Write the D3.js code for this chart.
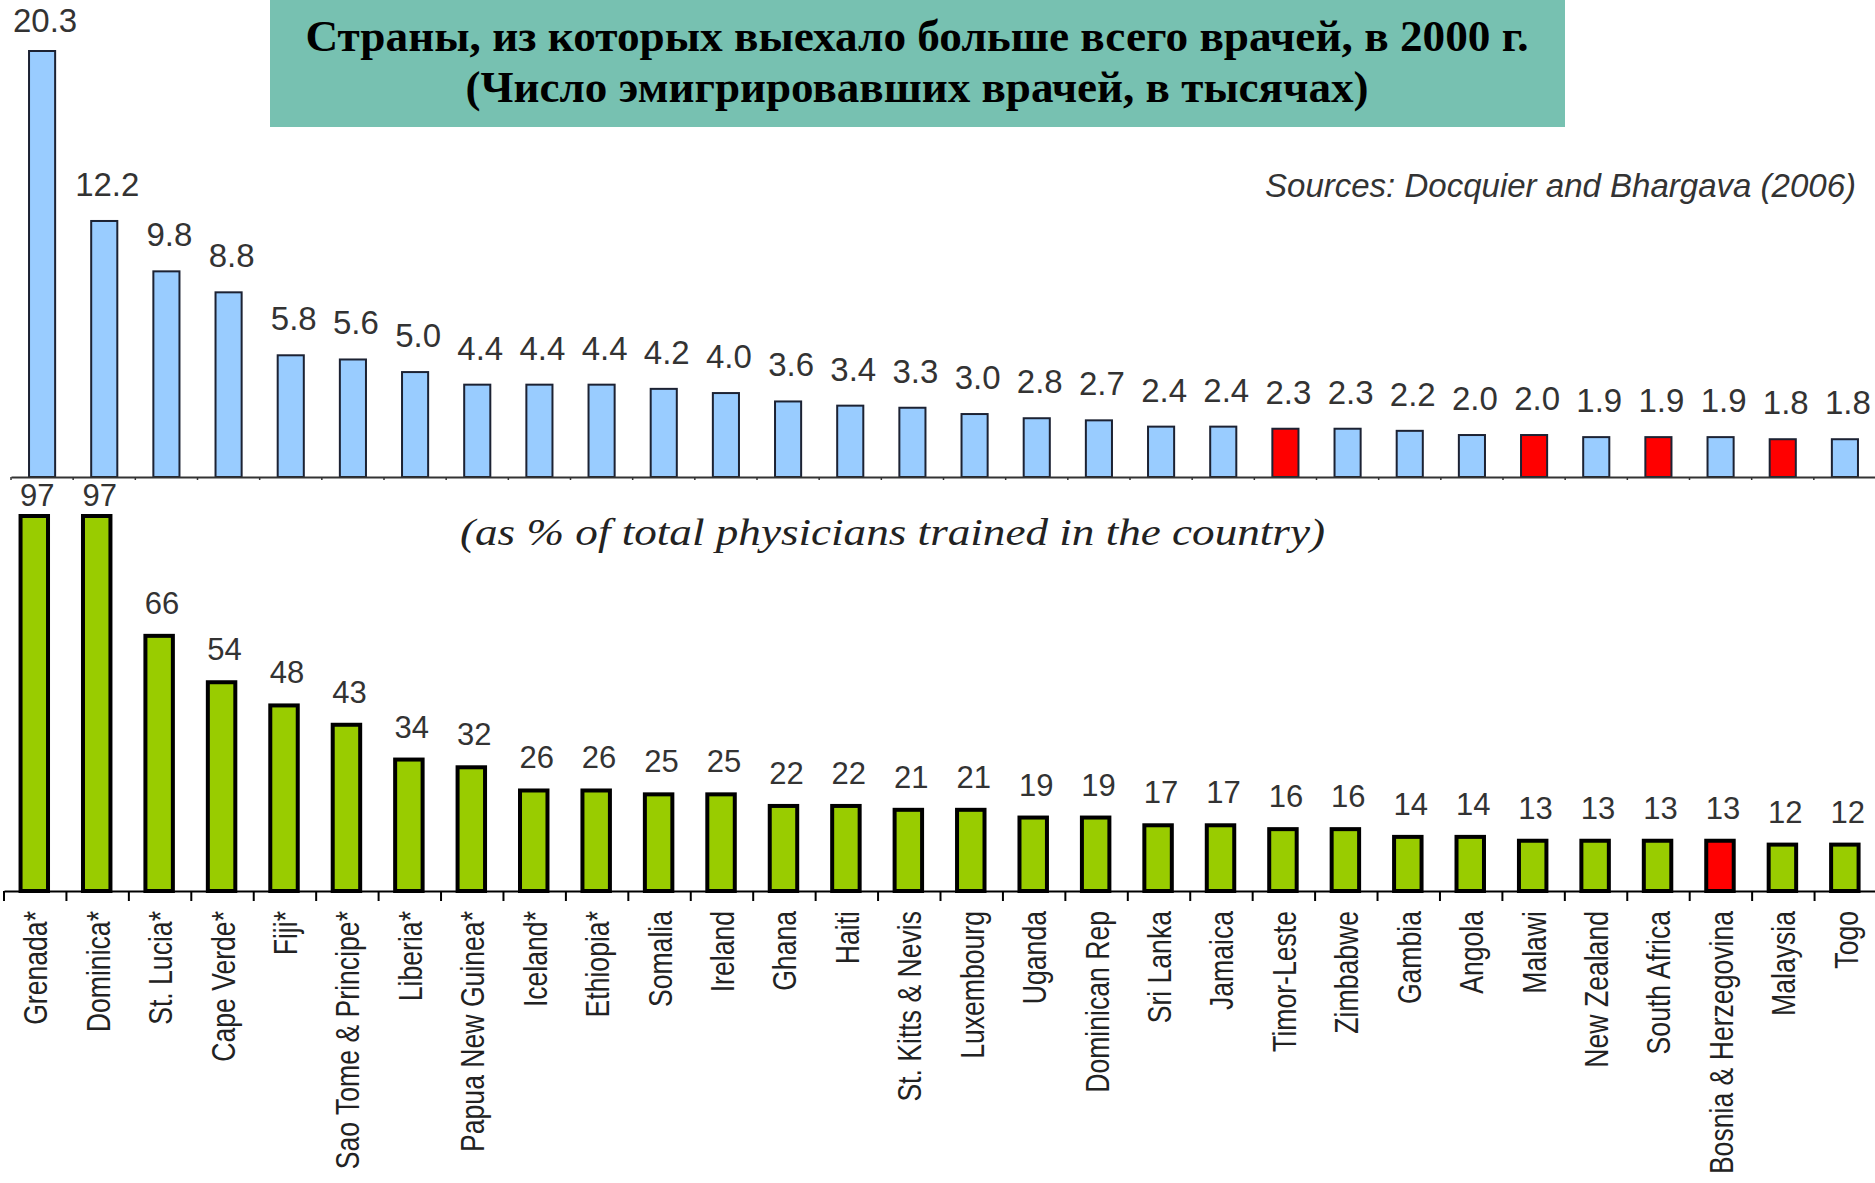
<!DOCTYPE html>
<html>
<head>
<meta charset="utf-8">
<script src="https://cdn.jsdelivr.net/npm/d3@7"></script>
<style>
  body { margin: 0; background: #fff; }
  svg { display: block; }
</style>
</head>
<body>
<svg id="vis"></svg>
<script>
// top panel: emigrated physicians, thousands (no country names on this one)
const topValues = [20.3, 12.2, 9.8, 8.8, 5.8, 5.6, 5.0, 4.4, 4.4, 4.4, 4.2, 4.0, 3.6, 3.4, 3.3,
                   3.0, 2.8, 2.7, 2.4, 2.4, 2.3, 2.3, 2.2, 2.0, 2.0, 1.9, 1.9, 1.9, 1.8, 1.8];
const topRed = [20, 24, 26, 28];

// bottom panel: % of physicians trained in the country
const countries = ["Grenada*", "Dominica*", "St. Lucia*", "Cape Verde*", "Fiji*", "Sao Tome & Principe*",
  "Liberia*", "Papua New Guinea*", "Iceland*", "Ethiopia*", "Somalia", "Ireland", "Ghana", "Haiti",
  "St. Kitts & Nevis", "Luxembourg", "Uganda", "Dominican Rep", "Sri Lanka", "Jamaica", "Timor-Leste",
  "Zimbabwe", "Gambia", "Angola", "Malawi", "New Zealand", "South Africa", "Bosnia & Herzegovina",
  "Malaysia", "Togo"];
const pctValues = [97, 97, 66, 54, 48, 43, 34, 32, 26, 26, 25, 25, 22, 22, 21, 21, 19, 19, 17, 17,
                   16, 16, 14, 14, 13, 13, 13, 13, 12, 12];
const bottomRed = [27];

const titleLines = ["Страны, из которых выехало больше всего врачей, в 2000 г.",
                    "(Число эмигрировавших врачей, в тысячах)"];
const sourceText = "Sources: Docquier and Bhargava (2006)";
const subText = "(as % of total physicians trained in the country)";

const width = 1875;
const height = 1183;

const svg = d3.select("#vis")
  .attr("width", width)
  .attr("height", height);

const topBase = 477;
const botBase = 891;

const idx = d3.range(topValues.length);

const xTop = d3.scaleBand().domain(idx).range([11, 1876]);
const xBot = d3.scaleBand().domain(idx).range([4, 1877]);

const yTop = d3.scaleLinear().domain([0, 20.3]).range([topBase, 51]);
const yBot = d3.scaleLinear().domain([0, 97]).range([botBase, 516]);

// ---- top chart ----
const gTop = svg.append("g");

gTop.selectAll("rect")
  .data(topValues)
  .join("rect")
    .attr("x", (d, i) => xTop(i) + xTop.bandwidth() * 0.29)
    .attr("width", xTop.bandwidth() * 0.42)
    .attr("y", d => yTop(d))
    .attr("height", d => topBase - yTop(d))
    .style("fill", (d, i) => topRed.includes(i) ? "#ff0000" : "#99ccff")
    .style("stroke", "#1c2233")
    .style("stroke-width", 2);

// labels: keep the tallest one inside the page
gTop.selectAll("text.val")
  .data(topValues)
  .join("text")
    .attr("class", "val")
    .attr("x", (d, i) => xTop(i) + xTop.bandwidth() / 2 + 3)
    .attr("y", d => Math.max(yTop(d) - 25, 32))
    .attr("text-anchor", "middle")
    .style("font-family", "'Liberation Sans', Arial, sans-serif")
    .style("font-size", "33px")
    .style("fill", "#333")
    .text(d => d.toFixed(1));

const axTop = gTop.append("g")
  .attr("transform", `translate(0, ${topBase})`)
  .call(d3.axisBottom(xTop).tickValues([]).tickSizeOuter(0));
axTop.select(".domain").attr("stroke", "#333").attr("stroke-width", 2);

// little tick marks between the bars
gTop.selectAll("line.tk")
  .data(idx)
  .join("line")
    .attr("class", "tk")
    .attr("x1", i => xTop(i))
    .attr("x2", i => xTop(i))
    .attr("y1", topBase)
    .attr("y2", topBase + 3)
    .attr("stroke", "#333")
    .attr("stroke-width", 1.5);

// ---- bottom chart ----
const gBot = svg.append("g");

gBot.selectAll("rect")
  .data(pctValues)
  .join("rect")
    .attr("x", (d, i) => xBot(i) + xBot.bandwidth() * 0.265)
    .attr("width", xBot.bandwidth() * 0.44)
    .attr("y", d => yBot(d))
    .attr("height", d => botBase - yBot(d))
    .style("fill", (d, i) => bottomRed.includes(i) ? "#ff0000" : "#99cc00")
    .style("stroke", "#000")
    .style("stroke-width", 4);

gBot.selectAll("text.val")
  .data(pctValues)
  .join("text")
    .attr("class", "val")
    .attr("x", (d, i) => xBot(i) + xBot.bandwidth() / 2 + 2)
    .attr("y", d => Math.max(yBot(d) - 22, topBase + 29))
    .attr("text-anchor", "middle")
    .style("font-family", "'Liberation Sans', Arial, sans-serif")
    .style("font-size", "31px")
    .style("fill", "#333")
    .text(d => d);

const axBot = gBot.append("g")
  .attr("transform", `translate(0, ${botBase})`)
  .call(d3.axisBottom(xBot).tickFormat("").tickSize(0).tickSizeOuter(0));
axBot.select(".domain").attr("stroke", "#000").attr("stroke-width", 2);
axBot.selectAll(".tick").remove();

gBot.selectAll("line.tk")
  .data(d3.range(topValues.length + 1))
  .join("line")
    .attr("class", "tk")
    .attr("x1", i => 4 + i * xBot.step())
    .attr("x2", i => 4 + i * xBot.step())
    .attr("y1", botBase)
    .attr("y2", botBase + 10)
    .attr("stroke", "#000")
    .attr("stroke-width", 2);

// country names, rotated (the picture is a bit stretched sideways so scale x)
gBot.selectAll("text.lab")
  .data(countries)
  .join("text")
    .attr("class", "lab")
    .attr("transform", (d, i) => `translate(${xBot(i) + xBot.bandwidth() / 2 + 12}, 911) scale(1.24,1) rotate(-90)`)
    .attr("text-anchor", "end")
    .style("font-family", "'Liberation Sans', Arial, sans-serif")
    .style("font-size", "26.6px")
    .style("fill", "#222")
    .text(d => d);

// ---- title box + notes ----
svg.append("rect")
  .attr("x", 270)
  .attr("y", 0)
  .attr("width", 1295)
  .attr("height", 127)
  .style("fill", "#77c1b1");

svg.selectAll("text.title")
  .data(titleLines)
  .join("text")
    .attr("class", "title")
    .attr("x", 917)
    .attr("y", (d, i) => 51 + i * 51)
    .attr("text-anchor", "middle")
    .attr("textLength", (d, i) => i == 0 ? 1223 : 903)
    .attr("lengthAdjust", "spacingAndGlyphs")
    .style("font-family", "'Liberation Serif', 'Times New Roman', serif")
    .style("font-weight", "bold")
    .style("font-size", "44px")
    .style("fill", "#000")
    .text(d => d);

svg.append("text")
  .attr("x", 1265)
  .attr("y", 197)
  .attr("textLength", 591)
  .attr("lengthAdjust", "spacingAndGlyphs")
  .style("font-family", "'Liberation Sans', Arial, sans-serif")
  .style("font-style", "italic")
  .style("font-size", "33px")
  .style("fill", "#333")
  .text(sourceText);

svg.append("text")
  .attr("x", 460)
  .attr("y", 545)
  .attr("textLength", 865)
  .attr("lengthAdjust", "spacingAndGlyphs")
  .style("font-family", "'Liberation Serif', 'Times New Roman', serif")
  .style("font-style", "italic")
  .style("font-size", "38px")
  .style("fill", "#222")
  .text(subText);
</script>
</body>
</html>
